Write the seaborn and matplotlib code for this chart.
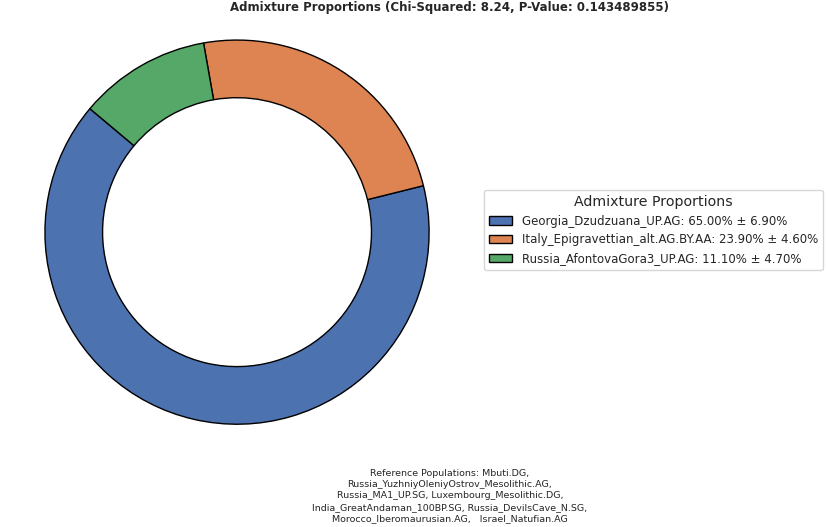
import matplotlib
matplotlib.use("Agg")
import matplotlib.pyplot as plt
import seaborn as sns

populations = ["Georgia_Dzudzuana_UP.AG", "Italy_Epigravettian_alt.AG.BY.AA", "Russia_AfontovaGora3_UP.AG"]
proportions = [65.00, 23.90, 11.10]
std_errors = [6.90, 4.60, 4.70]
chi_squared = 8.24
p_value = 0.143489855
reference_text = ("Reference Populations: Mbuti.DG,\n"
                  "Russia_YuzhniyOleniyOstrov_Mesolithic.AG,\n"
                  "Russia_MA1_UP.SG, Luxembourg_Mesolithic.DG,\n"
                  "India_GreatAndaman_100BP.SG, Russia_DevilsCave_N.SG,\n"
                  "Morocco_Iberomaurusian.AG,   Israel_Natufian.AG")

sns.set_theme(style="white")
plt.rcParams['font.family'] = ['DejaVu Sans']
colors = sns.color_palette("deep", len(populations))

fig = plt.figure(figsize=(8.26, 5.27), dpi=100)
ax = fig.add_axes([0.0079, 0.122, 461 / 826, 0.875])

wedges, _ = ax.pie(proportions, colors=colors, startangle=140,
                   wedgeprops=dict(width=0.3, edgecolor='black', linewidth=1))
ax.set_xlim(-1.2, 1.2)
ax.set_ylim(-1.2, 1.2)
ax.set_aspect('equal')

labels = [f"{p}: {v:.2f}% ± {e:.2f}%" for p, v, e in zip(populations, proportions, std_errors)]
leg = fig.legend(wedges, labels, title="Admixture Proportions", loc='upper left',
                 bbox_to_anchor=(478 / 826, 1 - 184 / 527), fontsize=8.5, title_fontsize=10.2,
                 frameon=True)

fig.text(450 / 826, 1 - 7 / 527,
         f"Admixture Proportions (Chi-Squared: {chi_squared:.2f}, P-Value: {p_value})",
         ha='center', va='center', fontsize=8.5, fontweight='bold')
fig.text(450 / 826, 1 - 496 / 527, reference_text, ha='center', va='center', fontsize=6.8,
         linespacing=1.35)

fig.savefig("out.png", dpi=100)
